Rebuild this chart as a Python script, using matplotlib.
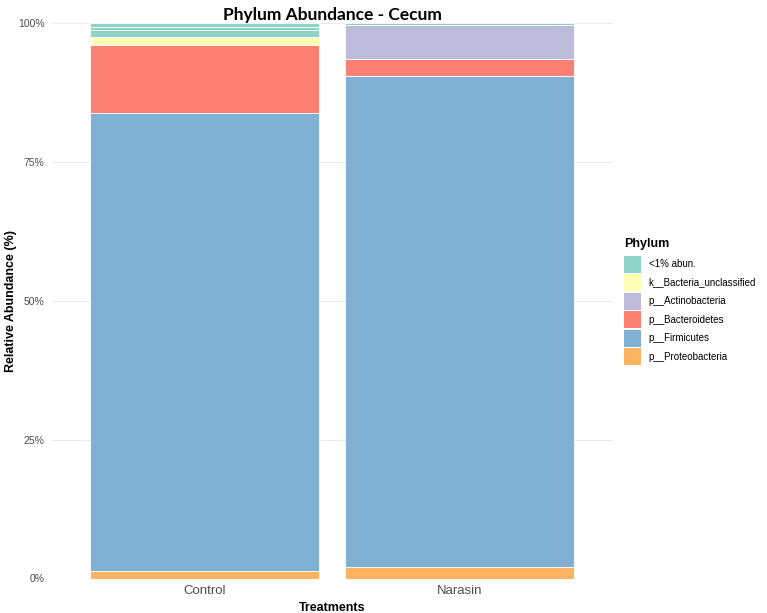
import matplotlib
matplotlib.use("Agg")
import matplotlib.pyplot as plt
from matplotlib.patches import Patch

plt.rcParams["font.family"] = ["Liberation Sans", "DejaVu Sans"]

treatments = ["Control", "Narasin"]
phyla = ["<1% abun.", "k__Bacteria_unclassified", "p__Actinobacteria",
         "p__Bacteroidetes", "p__Firmicutes", "p__Proteobacteria"]
colors = ["#8DD3C7", "#FFFFB3", "#BEBADA", "#FB8072", "#80B1D3", "#FDB462"]

# stacked from bottom to top (percent)
proteobacteria = [1.4, 2.1]
firmicutes = [82.35, 88.4]
bacteroidetes = [12.3, 3.05]
actinobacteria = [0.0, 6.0]
bacteria_unclassified = [1.5, 0.0]
low_abundance_control = [1.1, 0.7, 0.65]
low_abundance_narasin = [0.45]

fig = plt.figure(figsize=(7.67, 6.13), dpi=100)
left, right = 51.5 / 767, 612.5 / 767
bottom_f, top_f = (613 - 578.5) / 613, (613 - 23) / 613
ax = fig.add_axes([left, bottom_f, right - left, top_f - bottom_f])

x = [0, 1]
width = 0.9
edge = dict(edgecolor="white", linewidth=0.6)
bottom = [0.0, 0.0]
stack = [(proteobacteria, colors[5]), (firmicutes, colors[4]),
         (bacteroidetes, colors[3]), (actinobacteria, colors[2]),
         (bacteria_unclassified, colors[1])]
for vals, c in stack:
    for i in range(2):
        if vals[i] > 0:
            ax.bar(x[i], vals[i], width, bottom=bottom[i], color=c, **edge, zorder=2)
            bottom[i] += vals[i]
for i, segs in enumerate([low_abundance_control, low_abundance_narasin]):
    for v in segs:
        ax.bar(x[i], v, width, bottom=bottom[i], color=colors[0], **edge, zorder=2)
        bottom[i] += v

ax.set_xlim(-0.6, 1.6)
ax.set_ylim(0, 100)
ax.set_yticks([0, 25, 50, 75, 100])
ax.set_yticklabels(["0%", "25%", "50%", "75%", "100%"])
ax.set_xticks(x)
ax.set_xticklabels(treatments)
ax.grid(axis="y", color="#EBEBEB", linewidth=0.8, zorder=0)
ax.set_axisbelow(True)
for s in ax.spines.values():
    s.set_visible(False)
ax.tick_params(axis="both", length=0, colors="#4D4D4D")
ax.tick_params(axis="y", labelsize=7.5, pad=5)
ax.tick_params(axis="x", labelsize=9.5, pad=5)
ax.set_xlabel("Treatments", fontsize=9, fontweight="bold", labelpad=3)
ax.set_ylabel("Relative Abundance (%)", fontsize=9, fontweight="bold", labelpad=1)
ax.set_title("Phylum Abundance - Cecum", fontsize=12.5, fontweight="bold", pad=2,
             family=["Lato", "DejaVu Sans"])

handles = [Patch(facecolor=c, edgecolor="none") for c in colors]
leg = fig.legend(handles, phyla, title="Phylum", loc="upper left",
                 bbox_to_anchor=(0.802, 0.626), frameon=False, fontsize=7,
                 handlelength=1.75, handleheight=2.32, handletextpad=0.8,
                 labelspacing=0.15, alignment="left")
leg.get_title().set_fontweight("bold")
leg.get_title().set_fontsize(9)
leg._legend_box.sep = 4.0

fig.savefig("out.png", dpi=100, facecolor="white")
